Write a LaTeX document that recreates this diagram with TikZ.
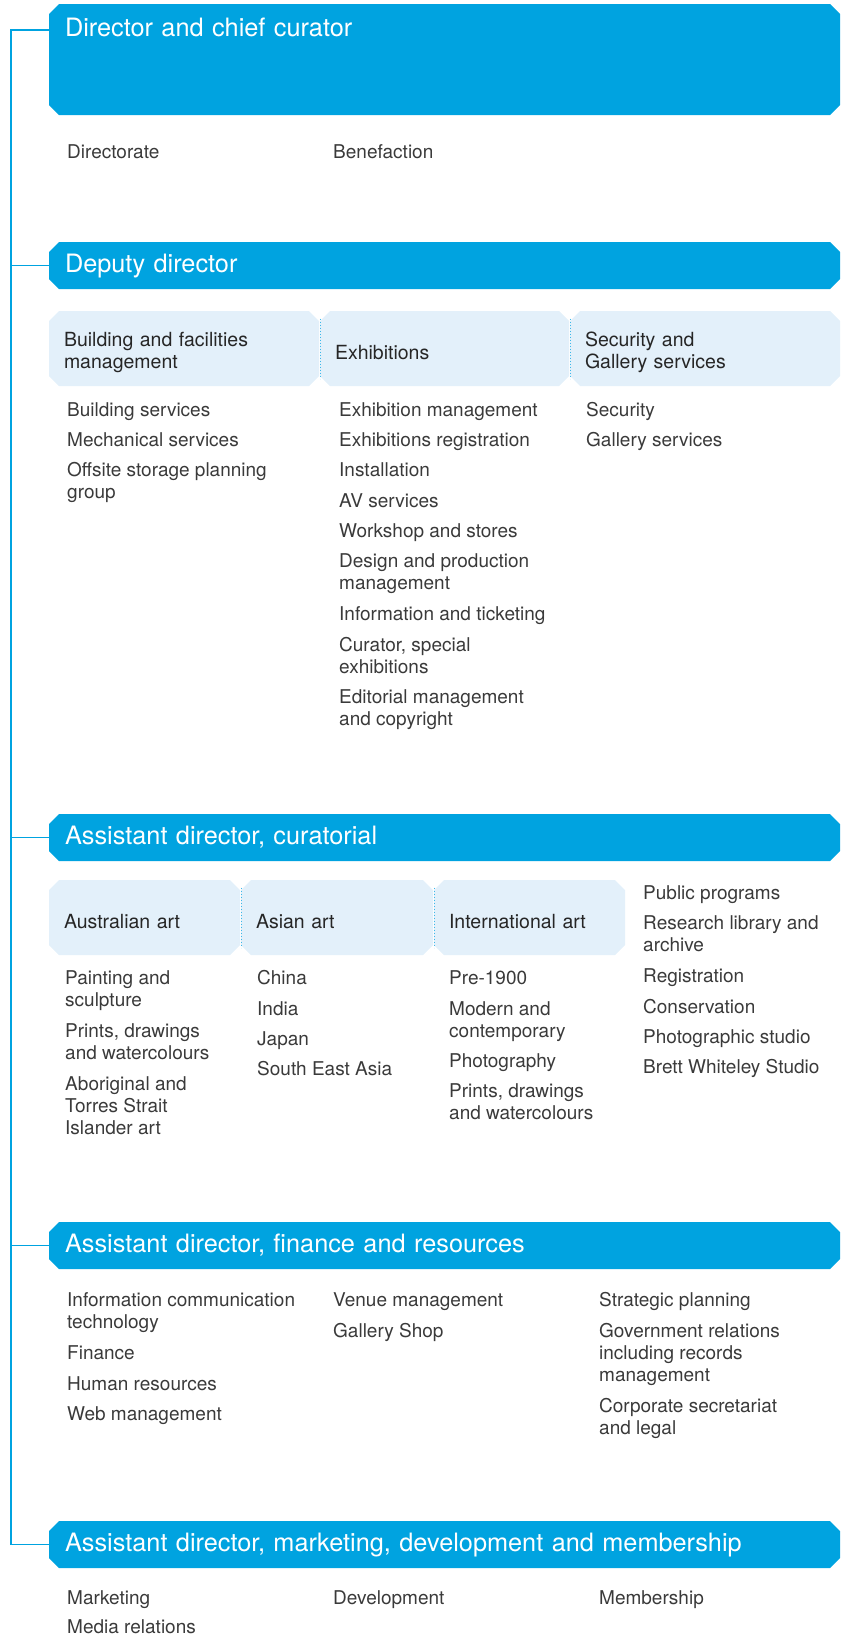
\documentclass[tikz,border=0pt]{standalone}
\usepackage{fontspec}
\setmainfont{TeX Gyre Heros}
\usetikzlibrary{shapes.misc}
\definecolor{gblue}{HTML}{00A3E0}
\definecolor{gpale}{HTML}{E3F0FA}
\definecolor{gdots}{HTML}{3DB8EA}
\definecolor{gtext}{HTML}{3A3A3A}
\begin{document}
\begin{tikzpicture}[x=1pt, y=-1pt,
  hd/.style={chamfered rectangle, chamfered rectangle xsep=5pt, chamfered rectangle ysep=5pt, fill=gblue, text=white, inner sep=0pt, outer sep=0pt, minimum width=791pt, minimum height=47pt, text width=759pt, align=left, text height=18pt, text depth=4pt, font=\fontsize{25.3}{30}\selectfont},
  sub/.style={chamfered rectangle, chamfered rectangle xsep=5pt, chamfered rectangle ysep=5pt, fill=gpale, text=black!85, inner sep=0pt, outer sep=0pt, minimum height=75pt, align=left, font=\fontsize{19.5}{22}\selectfont, execute at begin node={\rule{0pt}{22pt}}},
  it/.style={anchor=north west, inner sep=0pt, align=left, text=gtext, font=\fontsize{19}{22}\selectfont},
  ln/.style={draw=gblue, line width=1.3pt},
  divider/.style={draw=gdots, line width=1pt, dash pattern=on 1pt off 2pt}]
\useasboundingbox (0,0) rectangle (848,1636);
\node[hd, minimum height=111pt, text depth=65pt] (h1) at (444.5,59.5) {Director and chief curator};
\node[hd] (h2) at (444.5,265.5) {Deputy director};
\node[hd] (h3) at (444.5,837.5) {Assistant director, curatorial};
\node[hd] (h4) at (444.5,1245.5) {Assistant director, finance and resources};
\node[hd] (h5) at (444.5,1544.5) {Assistant director, marketing, development and membership};
\coordinate (top) at (11,30);
\draw[ln] (h1.west |- top) -- (top) |- (h5.west);
\draw[ln] (top |- h2.west) -- (h2.west);
\draw[ln] (top |- h3.west) -- (h3.west);
\draw[ln] (top |- h4.west) -- (h4.west);
\node[it] (a1) at (67,144) {Directorate};
\node[it] (a2) at (333,144) {Benefaction};
\node[sub, minimum width=270pt, text width=240pt] (bx1) at (184,348.5) {Building and facilities\\management};
\node[sub, minimum width=249pt, text width=219pt] (bx2) at (444.5,348.5) {Exhibitions};
\node[sub, minimum width=270pt, text width=240pt] (bx3) at (705,348.5) {Security and\\Gallery services};
\draw[divider] (bx2.west) ++(0,-30) -- ++(0,60);
\draw[divider] (bx3.west) ++(0,-30) -- ++(0,60);
\node[it] (b1) at (67,402) {Building services};
\node[it] (b2) at (67,432) {Mechanical services};
\node[it] (b3) at (67,462) {Offsite storage planning\\group};
\node[it] (b4) at (339,402) {Exhibition management};
\node[it] (b5) at (339,432) {Exhibitions registration};
\node[it] (b6) at (339,462) {Installation};
\node[it] (b7) at (339,493) {AV services};
\node[it] (b8) at (339,523) {Workshop and stores};
\node[it] (b9) at (339,553) {Design and production\\management};
\node[it] (b10) at (339,606) {Information and ticketing};
\node[it] (b11) at (339,637) {Curator, special\\exhibitions};
\node[it] (b12) at (339,689) {Editorial management\\and copyright};
\node[it] (b13) at (586,402) {Security};
\node[it] (b14) at (586,432) {Gallery services};
\node[sub, minimum width=191pt, text width=161pt] (cx1) at (144.5,917.5) {Australian art};
\node[sub, minimum width=192pt, text width=162pt] (cx2) at (337,917.5) {Asian art};
\node[sub, minimum width=191pt, text width=161pt] (cx3) at (529.5,917.5) {International art};
\draw[divider] (cx2.west) ++(0,-30) -- ++(0,60);
\draw[divider] (cx3.west) ++(0,-30) -- ++(0,60);
\node[it] (c1) at (65,970) {Painting and\\sculpture};
\node[it] (c2) at (65,1023) {Prints, drawings\\and watercolours};
\node[it] (c3) at (65,1076) {Aboriginal and\\Torres Strait\\Islander art};
\node[it] (c4) at (257,970) {China};
\node[it] (c5) at (257,1001) {India};
\node[it] (c6) at (257,1031) {Japan};
\node[it] (c7) at (257,1061) {South East Asia};
\node[it] (c8) at (449,970) {Pre-1900};
\node[it] (c9) at (449,1001) {Modern and\\contemporary};
\node[it] (c10) at (449,1053) {Photography};
\node[it] (c11) at (449,1083) {Prints, drawings\\and watercolours};
\node[it] (c12) at (643,885) {Public programs};
\node[it] (c13) at (643,915) {Research library and\\archive};
\node[it] (c14) at (643,968) {Registration};
\node[it] (c15) at (643,999) {Conservation};
\node[it] (c16) at (643,1029) {Photographic studio};
\node[it] (c17) at (643,1059) {Brett Whiteley Studio};
\node[it] (d1) at (67,1292) {Information communication\\technology};
\node[it] (d2) at (67,1345) {Finance};
\node[it] (d3) at (67,1376) {Human resources};
\node[it] (d4) at (67,1406) {Web management};
\node[it] (d5) at (333,1292) {Venue management};
\node[it] (d6) at (333,1323) {Gallery Shop};
\node[it] (d7) at (599,1292) {Strategic planning};
\node[it] (d8) at (599,1323) {Government relations\\including records\\management};
\node[it] (d9) at (599,1398) {Corporate secretariat\\and legal};
\node[it] (e1) at (67,1590) {Marketing};
\node[it] (e2) at (67,1619) {Media relations};
\node[it] (e3) at (333,1590) {Development};
\node[it] (e4) at (599,1590) {Membership};
\end{tikzpicture}
\end{document}
